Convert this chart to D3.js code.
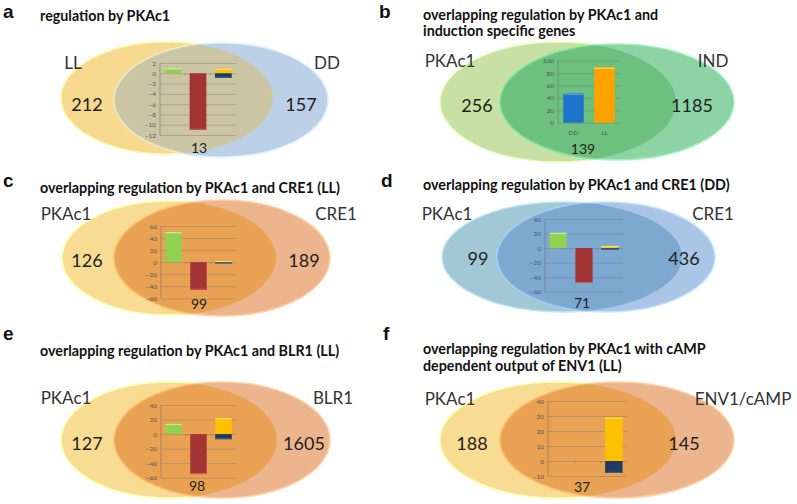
<!DOCTYPE html>
<html><head><meta charset="utf-8">
<script src="https://cdn.jsdelivr.net/npm/d3@7"></script>
<style>body{margin:0;background:#fff} svg{display:block}</style>
</head><body><svg id="c" width="797" height="504"></svg>
<script>
// ---------------- data ----------------
const panelLetters = ["a","b","c","d","e","f"];
const panelTitles = [
  ["regulation by PKAc1"],
  ["overlapping regulation by PKAc1 and","induction specific genes"],
  ["overlapping regulation by PKAc1 and CRE1 (LL)"],
  ["overlapping regulation by PKAc1 and CRE1 (DD)"],
  ["overlapping regulation by PKAc1 and BLR1 (LL)"],
  ["overlapping regulation by PKAc1 with cAMP","dependent output of ENV1 (LL)"]
];
const setNamesLeft = ["LL","PKAc1","PKAc1","PKAc1","PKAc1","PKAc1"];
const setNamesRight = ["DD","IND","CRE1","CRE1","BLR1","ENV1/cAMP"];
const countsLeftOnly = [212,256,126,99,127,188];
const countsRightOnly = [157,1185,189,436,1605,145];
const countsOverlap = [13,139,99,71,98,37];

// inset bar charts (panels a, c, d, e, f): categories and series
const regCategories = ["both up","both down","opposite"];
const regSeries = ["up","down","oppositeUp","oppositeDown"];
const regSeriesCategory = [0,1,2,2];
const regA = [1,-11,0.9,-0.9];
const regC = [50,-46,2,-2];
const regD = [21,-48,3,-2];
const regE = [14,-55,22,-7];
const regF = [0,0,29,-8];
const ticksA = [-12,-10,-8,-6,-4,-2,0,2];
const ticksC = [-60,-40,-20,0,20,40,60];
const ticksD = [-60,-40,-20,0,20,40];
const ticksE = [-60,-40,-20,0,20,40];
const ticksF = [-10,0,10,20,30,40];

// inset bar chart panel b
const indCategories = ["DD","LL"];
const indValues = [47,89];
const ticksB = [0,20,40,60,80,100];

// ---------------- styling / layout ----------------
const seriesColors = ["#92D050","#A23434","#FFC000","#1F3B63"];
const seriesHighlights = ["#c8ef96","#c45a52","#ffe066","#3a5a86"];
const indColors = ["#1C74CC","#FFA200"];
const indHighlights = ["#4a98e0","#ffd23a"];

const venn = [
  {L:[167,98,106,56], R:[221,100,107,57], cl:"#F6D88E", cr:"#BCD0E8", co:"#CBC5A4"},
  {L:[558,102,118,60], R:[617,102,117,58], cl:"#C8E0A4", cr:"#8DD3A6", co:"#6EC07E"},
  {L:[169,258,107,57], R:[222,258,108,58], cl:"#F8DC94", cr:"#EDB58E", co:"#E9A253"},
  {L:[562,257,120,55], R:[606,257,109,55], cl:"#A2C8D6", cr:"#AAC6E6", co:"#7DA8CF"},
  {L:[169,440,108,58], R:[222,440,108,58], cl:"#F8DC94", cr:"#EDB58E", co:"#E9A253"},
  {L:[558,440,118,58], R:[617,440,117,58], cl:"#F8DC94", cr:"#EDB58E", co:"#E9A253"}
];
const letterPos = [[3,18],[379,18],[3,187],[381,187],[3,340],[383,340]];
const titlePos = [[40,21,16],[423,20,16],[40,193,16],[423,190,16],[40,356,16],[423,354,17]];
const labelPos = [
  {l:[73,62], r:[327,62], lo:[87,104], ro:[301,104], ov:[199,147]},
  {l:[450,60], r:[713,60], lo:[477,105], ro:[692,105], ov:[583,148]},
  {l:[66,213], r:[336,213], lo:[87,260], ro:[304,260], ov:[199,303]},
  {l:[447,213], r:[713,213], lo:[478,258], ro:[684,258], ov:[582,302]},
  {l:[66,397], r:[333,397], lo:[87,443], ro:[304,443], ov:[197,485]},
  {l:[450,398], r:[743,398], lo:[472,443], ro:[684,443], ov:[582,486]}
];
const insetBox = [
  {x:[160,236], d:[-12,2], y:[135,63], ticks:ticksA, vals:regA},
  {x:[558,620], d:[0,100], y:[122.7,60.7], ticks:ticksB, vals:null},
  {x:[161,236], d:[-60,60], y:[298.3,226], ticks:ticksC, vals:regC},
  {x:[545,623], d:[-60,40], y:[291.7,219], ticks:ticksD, vals:regD},
  {x:[161,236], d:[-60,40], y:[477.7,405], ticks:ticksE, vals:regE},
  {x:[548,627], d:[-10,40], y:[476,401], ticks:ticksF, vals:regF}
];

const svg = d3.select("#c");
const defs = svg.append("defs");
const FONT = "Lato, 'Open Sans', sans-serif";

venn.forEach((v, i) => {
  const g = svg.append("g");
  // ellipses
  g.append("ellipse").attr("cx",v.L[0]).attr("cy",v.L[1]).attr("rx",v.L[2]).attr("ry",v.L[3])
    .attr("fill",v.cl).attr("stroke",d3.color(v.cl).brighter(0.4)).attr("stroke-width",1.5);
  g.append("ellipse").attr("cx",v.R[0]).attr("cy",v.R[1]).attr("rx",v.R[2]).attr("ry",v.R[3])
    .attr("fill",v.cr).attr("stroke",d3.color(v.cr).brighter(0.4)).attr("stroke-width",1.5);
  const cid = "clip"+i;
  defs.append("clipPath").attr("id",cid).append("ellipse")
    .attr("cx",v.L[0]).attr("cy",v.L[1]).attr("rx",v.L[2]).attr("ry",v.L[3]);
  g.append("ellipse").attr("clip-path",`url(#${cid})`)
    .attr("cx",v.R[0]).attr("cy",v.R[1]).attr("rx",v.R[2]).attr("ry",v.R[3])
    .attr("fill",v.co).attr("stroke",d3.color(v.co).brighter(0.5)).attr("stroke-width",2).attr("stroke-opacity",0.6);

  // inset chart
  const ib = insetBox[i];
  const y = d3.scaleLinear().domain(ib.d).range(ib.y);
  const cats = i === 1 ? indCategories : regCategories;
  const x = d3.scaleBand().domain(cats).range(ib.x).paddingInner(0.34).paddingOuter(0.17);
  const ax = g.append("g").attr("transform",`translate(${ib.x[0]},0)`)
    .call(d3.axisLeft(y).tickValues(ib.ticks).tickSize(-(ib.x[1]-ib.x[0])).tickSizeOuter(0).tickPadding(4));
  ax.select(".domain").attr("stroke","rgba(110,110,110,0.55)").attr("d",`M0,${ib.y[0]}V${ib.y[1]}`);
  ax.selectAll(".tick line").attr("stroke","rgba(110,110,110,0.45)").attr("stroke-width",0.8);
  ax.selectAll(".tick text").attr("fill","#555").attr("font-size",6.5).attr("font-family",FONT);

  if (i === 1) {
    g.selectAll(".bar").data(indValues).enter().append("rect")
      .attr("x",(d,k)=>x(indCategories[k])).attr("width",x.bandwidth())
      .attr("y",d=>y(d)).attr("height",d=>y(0)-y(d))
      .attr("fill",(d,k)=>indColors[k]);
    g.selectAll(".hl").data(indValues).enter().append("rect")
      .attr("x",(d,k)=>x(indCategories[k])).attr("width",x.bandwidth())
      .attr("y",d=>y(d)).attr("height",1.5)
      .attr("fill",(d,k)=>indHighlights[k]);
    g.selectAll(".cl").data(indCategories).enter().append("text")
      .attr("x",d=>x(d)+x.bandwidth()/2).attr("y",y(0)+10)
      .attr("text-anchor","middle").attr("dominant-baseline","central")
      .attr("font-size",6.5).attr("font-family",FONT).attr("fill","#555").text(d=>d);
  } else {
    // category tick marks on zero line
    g.selectAll(".ct").data(cats.slice(1)).enter().append("line")
      .attr("x1",d=>x(d)-x.step()*x.paddingInner()/2).attr("x2",d=>x(d)-x.step()*x.paddingInner()/2)
      .attr("y1",y(0)).attr("y2",y(0)+2).attr("stroke","rgba(110,110,110,0.6)").attr("stroke-width",0.8);
    const vals = ib.vals;
    g.selectAll(".bar").data(vals).enter().append("rect")
      .attr("x",(d,k)=>x(regCategories[regSeriesCategory[k]])).attr("width",x.bandwidth())
      .attr("y",d=>Math.min(y(d),y(0))).attr("height",d=>Math.abs(y(d)-y(0)))
      .attr("fill",(d,k)=>seriesColors[k]);
    g.selectAll(".hl").data(vals).enter().append("rect")
      .filter(d=>d!==0)
      .attr("x",(d,k)=>x(regCategories[regSeriesCategory[vals.indexOf(d)]]))
      .attr("width",x.bandwidth())
      .attr("y",d=>d>0?y(d):y(d)-1.2).attr("height",1.2)
      .attr("fill",d=>seriesHighlights[vals.indexOf(d)]);
  }

  // labels
  const lp = labelPos[i];
  const txt = (p, s, fs) => g.append("text").attr("x",p[0]).attr("y",p[1])
      .attr("text-anchor","middle").attr("dominant-baseline","central")
      .attr("font-family",FONT).attr("font-size",fs).attr("fill","#222").text(s);
  txt(lp.l, setNamesLeft[i], 17).attr("fill","#333");
  txt(lp.r, setNamesRight[i], 17).attr("fill","#333");
  txt(lp.lo, countsLeftOnly[i], 18);
  txt(lp.ro, countsRightOnly[i], 18);
  txt(lp.ov, countsOverlap[i], 14);

  // panel letter and title
  svg.append("text").attr("x",letterPos[i][0]).attr("y",letterPos[i][1])
    .attr("font-family","'Liberation Sans', Arial, sans-serif").attr("font-weight","bold")
    .attr("font-size",19).attr("fill","#111").text(panelLetters[i]);
  const tp = titlePos[i];
  panelTitles[i].forEach((line, k) => {
    svg.append("text").attr("x",tp[0]).attr("y",tp[1]+k*tp[2])
      .attr("font-family",FONT).attr("font-weight","bold").attr("font-size",14.3)
      .attr("fill","#111").text(line);
  });
});
</script>
</body></html>
